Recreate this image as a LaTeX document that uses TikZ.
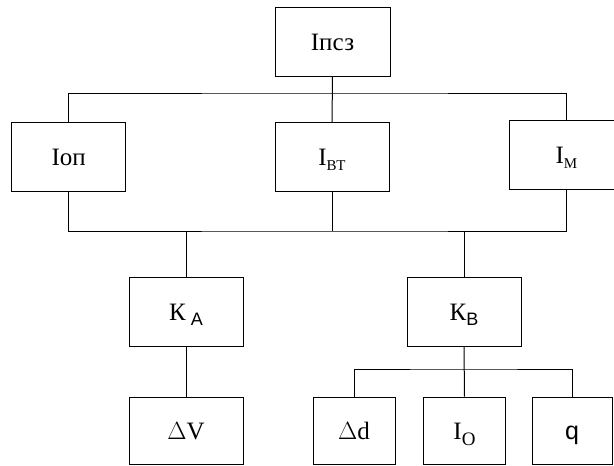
\documentclass[tikz,border=0pt]{standalone}
\usepackage{fontspec}
\setmainfont{Liberation Serif}
\newfontfamily\sansq{Liberation Sans}
\newcommand{\nizh}[3]{\raisebox{-#2pt}{\fontsize{#1}{#1}\selectfont #3}}

\begin{document}
\begin{tikzpicture}[x=1pt,y=-1pt,
	blok/.style={draw, line width=1pt, inner sep=0pt, minimum width=114pt, minimum height=69pt,
		font=\fontsize{25}{28}\selectfont, text height=17pt, text depth=0pt},
	malblok/.style={blok, minimum width=82pt, minimum height=67pt},
	svyaz/.style={line width=1pt}]
	\useasboundingbox (0,0) rectangle (614,466);

	\node[blok, minimum width=115pt] (psz) at (332.5,42) {Iпсз};
	\node[blok] (op) at (68.7,157.3) {Iоп};
	\node[blok] (vt) at (332,157.3) {I\nizh{15}{4.5}{ВТ}};
	\node[blok, minimum width=115pt] (m) at (566.5,155.3) {I\nizh{15}{5}{М}};
	\node[blok] (ka) at (186,311.5) {К\hspace{5pt}\nizh{18}{5}{\sansq A}};
	\node[blok] (kb) at (464,311.5) {К\nizh{18}{5}{\sansq B}};
	\node[blok, minimum height=67pt] (dv) at (186,430.5) {$\Delta$V};
	\node[malblok] (dd) at (354,430.5) {$\Delta$d};
	\node[malblok] (io) at (464.5,430.5) {I\nizh{19}{6}{О}};
	\node[malblok, minimum width=80pt] (q) at (572,430.5) {\sansq q};

	\coordinate (t1) at (332,93);
	\coordinate (t2) at (332,231);
	\coordinate (t3) at (464,369);

	\draw [svyaz] (psz.south) -- (vt.north);
	\draw [svyaz] (op.north) |- (t1) -| (m.north);
	\draw [svyaz] (op.south) |- (t2) -| (m.south);
	\draw [svyaz] (vt.south) -- (t2);
	\draw [svyaz] (ka.north) -- (ka.north |- t2);
	\draw [svyaz] (kb.north) -- (kb.north |- t2);
	\draw [svyaz] (ka.south) -- (dv.north);
	\draw [svyaz] (kb.south) -- (io.north);
	\draw [svyaz] (dd.north) |- (t3) -| (q.north);

\end{tikzpicture}
\end{document}
